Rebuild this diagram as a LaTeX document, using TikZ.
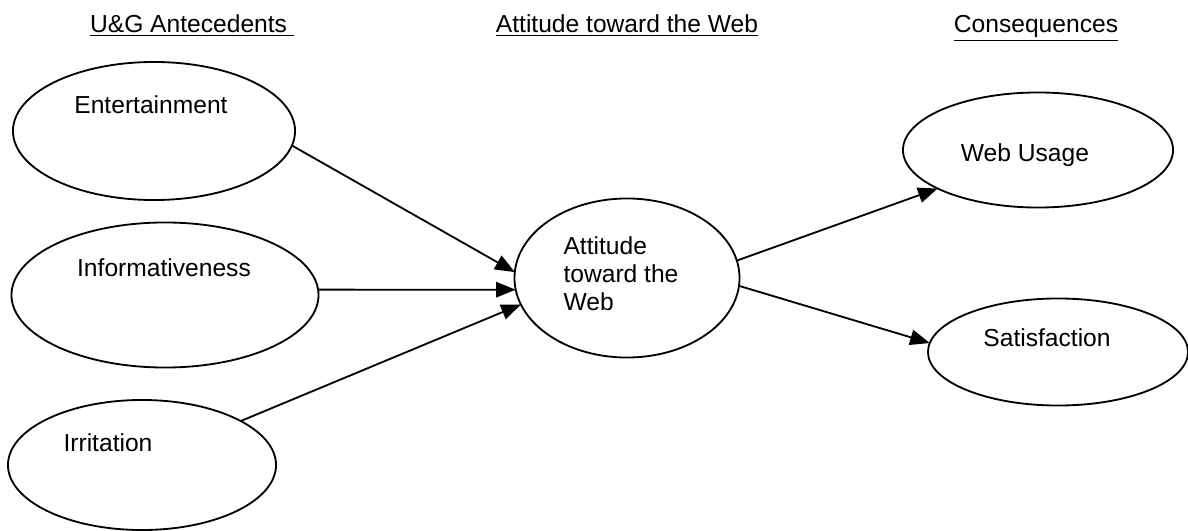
\documentclass[tikz,border=0pt]{standalone}
\usepackage{fontspec}
\setmainfont{Liberation Sans}
\usetikzlibrary{shapes.geometric,arrows.meta}
\begin{document}
\begin{tikzpicture}[x=0.025cm,y=-0.025cm,
    var/.style={draw,ellipse,line width=1.3pt,inner sep=0pt,outer sep=0pt,
      font=\fontsize{17.5}{20}\selectfont},
    every label/.style={font=\fontsize{17.5}{20}\selectfont},
    head/.style={anchor=base,font=\fontsize{17.5}{20}\selectfont},
    link/.style={line width=1.3pt,-{Triangle[length=14pt,width=11pt]}}]
  \useasboundingbox (0,0) rectangle (1188,531);
  \draw
    (192,33) node[head] (h1) {\underline{U\&G Antecedents\ }}
    (627,33) node[head] (h2) {\underline{Attitude toward the Web}}
    (1036,33) node[head] (h3) {\underline{Consequences}};
  \draw
    (154,131) node[var,minimum width=7.05cm,minimum height=3.45cm,
      label={[xshift=-0.075cm,yshift=0.65cm]center:Entertainment}] (ent) {}
    (165,295) node[var,minimum width=7.675cm,minimum height=3.625cm,
      label={[xshift=-0.025cm,yshift=0.675cm]center:Informativeness}] (inf) {}
    (142,465) node[var,minimum width=6.7cm,minimum height=3.25cm,
      label={[xshift=-0.85cm,yshift=0.55cm]center:Irritation}] (irr) {}
    (627,278) node[var,minimum width=5.625cm,minimum height=3.975cm,
      label={[align=left,xshift=-0.15cm,yshift=0.1cm]center:Attitude\\toward the\\Web}] (att) {}
    (1038,150) node[var,minimum width=6.75cm,minimum height=2.875cm,
      label={[xshift=-0.325cm,yshift=-0.125cm]center:Web Usage}] (use) {}
    (1058,352) node[var,minimum width=6.5cm,minimum height=2.675cm,
      label={[xshift=-0.275cm,yshift=0.35cm]center:Satisfaction}] (sat) {};
  \begin{scope}[link]
    \draw (ent.-6) to (att.177);
    \draw (inf.2) to (att.186);
    \draw (irr.24) to (att.194);
    \draw (att.9) to (use.201);
    \draw (att.356) to (sat.176);
  \end{scope}
\end{tikzpicture}
\end{document}
